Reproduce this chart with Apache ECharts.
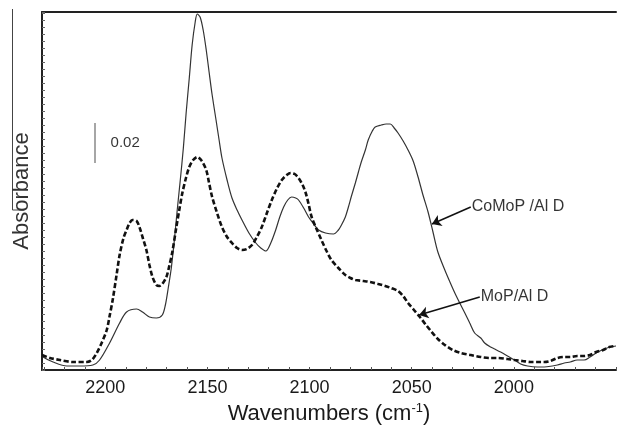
<!DOCTYPE html>
<html>
<head>
<meta charset="utf-8">
<script src="https://cdn.jsdelivr.net/npm/echarts@6/dist/echarts.min.js"></script>
<style>
  html, body { margin: 0; padding: 0; background: #fff; }
  #chart { width: 619px; height: 430px; }
</style>
</head>
<body>
<div id="chart"></div>
<script>
// IR spectra of adsorbed CO: wavenumber (cm-1) and absorbance
const coMoPWave = [2231.0,2230.5,2225.6,2218.8,2212.5,2206.1,2202.8,2197.9,2193.0,2189.6,2184.7,2181.8,2178.4,2175.0,2172.1,2170.6,2169.2,2167.7,2166.2,2164.8,2163.3,2161.8,2160.4,2158.9,2157.5,2156.0,2155.0,2153.6,2152.1,2150.6,2149.2,2147.7,2145.8,2144.3,2142.9,2140.4,2138.0,2135.5,2133.1,2129.7,2126.3,2123.9,2121.4,2119.0,2116.6,2114.6,2112.7,2110.7,2108.8,2106.8,2105.4,2102.9,2100.5,2098.0,2095.6,2092.2,2088.3,2085.9,2084.4,2082.5,2081.0,2079.5,2077.6,2076.1,2074.7,2072.7,2071.3,2069.3,2067.9,2064.9,2062.5,2060.5,2058.6,2056.7,2054.2,2051.8,2049.3,2046.9,2044.5,2042.0,2039.6,2037.2,2033.8,2031.3,2028.9,2026.5,2024.0,2021.6,2019.2,2016.2,2014.3,2011.4,2009.4,2006.5,2003.1,1999.7,1996.7,1993.3,1988.5,1985.1,1981.2,1978.7,1975.3,1972.4,1969.0,1965.6,1962.7,1959.7,1956.8,1954.4,1950.0];
const coMoPAbs = [0.0075,0.0065,0.004,0.002,0.002,0.0025,0.005,0.0135,0.0235,0.029,0.0305,0.029,0.0265,0.026,0.0275,0.0325,0.041,0.051,0.065,0.080,0.095,0.111,0.129,0.146,0.1625,0.174,0.178,0.1765,0.170,0.160,0.149,0.1375,0.125,0.115,0.106,0.095,0.086,0.080,0.075,0.0685,0.0635,0.061,0.0595,0.0635,0.070,0.0765,0.0815,0.085,0.0865,0.086,0.085,0.081,0.0765,0.073,0.070,0.0685,0.068,0.070,0.0725,0.0765,0.0815,0.087,0.0935,0.099,0.104,0.110,0.115,0.1195,0.1215,0.1225,0.123,0.123,0.121,0.1185,0.1145,0.110,0.1045,0.0965,0.0875,0.079,0.069,0.059,0.050,0.044,0.0385,0.0335,0.0285,0.0235,0.0185,0.016,0.0135,0.0115,0.0105,0.009,0.007,0.005,0.003,0.002,0.0015,0.0015,0.002,0.0025,0.0035,0.004,0.005,0.005,0.0065,0.0085,0.010,0.011,0.012];

const moPWave = [2231.0,2227.1,2222.2,2215.9,2209.1,2206.6,2204.2,2201.8,2199.3,2197.9,2196.4,2194.5,2193.0,2191.1,2189.6,2188.1,2186.7,2184.7,2183.3,2181.8,2179.9,2178.4,2176.9,2175.0,2173.5,2172.1,2170.1,2168.7,2167.2,2165.3,2163.8,2162.3,2160.4,2158.9,2157.0,2155.0,2153.1,2150.6,2149.2,2147.7,2145.3,2142.9,2140.4,2138.0,2135.5,2133.1,2130.7,2128.2,2125.8,2123.4,2120.9,2118.5,2116.1,2113.6,2111.2,2109.3,2107.3,2105.4,2103.4,2101.9,2100.5,2099.0,2096.6,2094.2,2091.7,2089.3,2085.9,2082.5,2080.0,2077.6,2073.7,2070.3,2066.4,2063.0,2060.1,2056.7,2054.2,2051.8,2048.9,2046.0,2043.0,2040.6,2037.2,2033.8,2029.9,2026.0,2021.1,2016.2,2011.8,2007.9,2003.1,1999.7,1995.8,1991.9,1988.5,1985.1,1982.1,1978.7,1975.3,1972.4,1969.0,1965.6,1962.7,1959.7,1956.3,1953.3,1950.0];
const moPAbs = [0.0075,0.006,0.005,0.004,0.004,0.005,0.0085,0.0135,0.020,0.027,0.035,0.0475,0.0575,0.066,0.070,0.0735,0.075,0.0745,0.0715,0.0665,0.060,0.0525,0.0465,0.0425,0.042,0.043,0.0465,0.052,0.059,0.071,0.080,0.0885,0.0965,0.1015,0.105,0.1065,0.105,0.100,0.0935,0.0865,0.0785,0.0715,0.0665,0.0635,0.061,0.060,0.0605,0.0625,0.0665,0.0715,0.0785,0.085,0.0905,0.095,0.0975,0.0985,0.098,0.096,0.0925,0.0885,0.083,0.0765,0.0705,0.065,0.0595,0.055,0.051,0.0475,0.046,0.045,0.0445,0.044,0.043,0.042,0.041,0.0395,0.037,0.0335,0.030,0.0265,0.0225,0.0195,0.0155,0.0125,0.010,0.0085,0.0075,0.0065,0.006,0.006,0.0055,0.005,0.0045,0.004,0.004,0.004,0.0045,0.006,0.0065,0.0065,0.007,0.007,0.0075,0.009,0.010,0.0115,0.012];

const seriesNames = ['CoMoP /Al D', 'MoP/Al D'];
const tickLabels = [2200, 2150, 2100, 2050, 2000];
const scaleBarValue = 0.02;

const zip = (xs, ys) => xs.map((x, i) => [x, ys[i]]);
const FONT = "'Liberation Sans', Arial, sans-serif";

const arrowLine = (from, to) => ({
  silent: true, symbol: ['none', 'arrow'], symbolSize: 9,
  lineStyle: { color: '#111', width: 1.5, type: 'solid' }, label: { show: false },
  data: [[{ coord: from }, { coord: to }]]
});

const chart = echarts.init(document.getElementById('chart'));
chart.setOption({
  animation: false,
  backgroundColor: '#fff',
  grid: { left: 42, right: 0, top: 12, bottom: 60 },
  xAxis: [{
    type: 'value', min: 1950, max: 2231, inverse: true, interval: 10,
    axisLine: { lineStyle: { color: '#222', width: 2 } },
    axisTick: { inside: true, length: 3, lineStyle: { color: '#555', width: 1 } },
    splitLine: { show: false },
    axisLabel: {
      color: '#1a1a1a', fontSize: 18, fontFamily: FONT, margin: 9,
      formatter: v => tickLabels.includes(v) ? String(v) : ''
    },
    name: '{a|Wavenumbers (cm}{s|-1}{a|)}',
    nameLocation: 'middle', nameGap: 29,
    nameTextStyle: {
      rich: {
        a: { fontSize: 22, fontFamily: FONT, color: '#1a1a1a' },
        s: { fontSize: 13, fontFamily: FONT, color: '#1a1a1a', padding: [0, 0, 11, 0] }
      }
    }
  }, {
    type: 'value', min: 1950, max: 2231, inverse: true, position: 'top',
    axisLine: { lineStyle: { color: '#222', width: 2 } },
    axisTick: { show: false }, axisLabel: { show: false }, splitLine: { show: false }
  }],
  yAxis: {
    type: 'value', min: 0, max: 0.179, interval: 0.0035,
    axisLine: { show: true, lineStyle: { color: '#222', width: 2 } },
    axisTick: { inside: true, length: 3, lineStyle: { color: '#666', width: 1 } },
    axisLabel: { show: false },
    splitLine: { show: false },
    name: 'Absorbance', nameLocation: 'middle', nameGap: 9,
    nameTextStyle: { fontSize: 22, fontFamily: FONT, color: '#333' }
  },
  graphic: [
    { type: 'polyline', shape: { points: [[12.5, 9], [12.5, 210], [24, 210]] },
      style: { stroke: '#444', lineWidth: 1, fill: null } }
  ],
  series: [
    {
      name: seriesNames[0], type: 'line', data: zip(coMoPWave, coMoPAbs),
      showSymbol: false, smooth: 0.3,
      lineStyle: { color: '#333', width: 1.2 },
      markLine: arrowLine([2021.1, 0.0815], [2040.1, 0.073])
    },
    {
      name: seriesNames[1], type: 'line', data: zip(moPWave, moPAbs),
      showSymbol: false, smooth: 0.3,
      lineStyle: { color: '#111', width: 2.6, type: [5, 2.5] },
      markLine: arrowLine([2016.7, 0.0365], [2046.4, 0.0275])
    },
    {
      // series labels and the absorbance scale bar
      type: 'scatter', symbolSize: 0, silent: true,
      data: [
        { value: [2021.1, 0.0815], label: { formatter: seriesNames[0] } },
        { value: [2016.7, 0.0365], label: { formatter: seriesNames[1] } },
        { value: [2197.9, 0.1135], label: { formatter: scaleBarValue.toFixed(2), fontSize: 15 } }
      ],
      label: { show: true, position: 'right', distance: 1, color: '#000', fontSize: 16, fontFamily: FONT },
      markLine: {
        silent: true, symbol: 'none', label: { show: false },
        lineStyle: { color: '#888', width: 1.5, type: 'solid' },
        data: [[{ coord: [2205.2, 0.1035] }, { coord: [2205.2, 0.1035 + scaleBarValue] }]]
      }
    }
  ]
});
</script>
</body>
</html>
